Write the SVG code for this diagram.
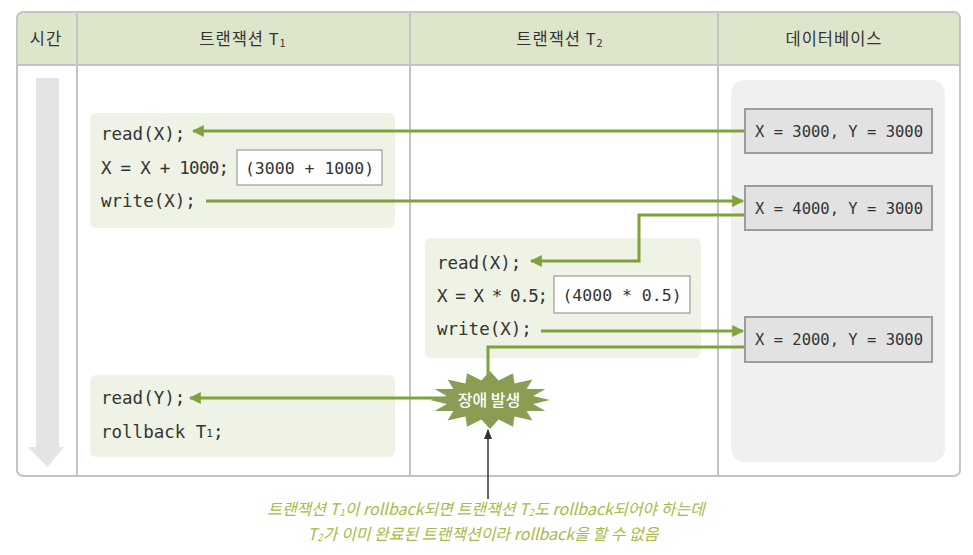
<svg xmlns="http://www.w3.org/2000/svg" width="973" height="555" viewBox="0 0 973 555">
<style>
.hd{font-family:"Noto Sans CJK KR","Noto Sans",sans-serif;font-size:16.5px;letter-spacing:1px;fill:#333;text-anchor:middle}
.code{font-family:"DejaVu Sans Mono",monospace;font-size:17.5px;fill:#333}
.mc{font-family:"DejaVu Sans Mono",monospace;font-size:16.5px;fill:#333;text-anchor:middle}
.db{font-family:"DejaVu Sans Mono",monospace;font-size:15.5px;fill:#333;text-anchor:middle}
.blk{fill:#eef3e5}
.mini{fill:#fff;stroke:#999;stroke-width:1.2}
.dbbox{fill:#e2e2e2;stroke:#9c9c9c;stroke-width:2}
.con{fill:none;stroke:#7fa23a;stroke-width:3}
.cap{font-family:"Noto Sans CJK KR","Noto Sans",sans-serif;font-size:16px;font-style:italic;fill:#a9ba48;text-anchor:middle}
</style>
<defs>
<marker id="ah" viewBox="0 0 10 10" refX="9" refY="5" markerWidth="4" markerHeight="4" orient="auto" markerUnits="strokeWidth">
<path d="M0,0 L10,5 L0,10 z" fill="#7fa23a"/>
</marker>
<marker id="bh" viewBox="0 0 10 10" refX="9" refY="5" markerWidth="7" markerHeight="7" orient="auto" markerUnits="strokeWidth">
<path d="M0,1 L10,5 L0,9 z" fill="#333"/>
</marker>
</defs>
<rect width="973" height="555" fill="#fff"/>
<g id="table">
<path d="M17,65 V18 Q17,12 23,12 H954 Q960,12 960,18 V65 Z" fill="#dde6ca"/>
<rect x="17" y="12" width="943" height="464" rx="6" fill="none" stroke="#c4c4c4" stroke-width="2"/>
<line x1="17" y1="65" x2="960" y2="65" stroke="#c4c4c4" stroke-width="2"/>
<line x1="77" y1="12" x2="77" y2="476" stroke="#c4c4c4" stroke-width="2"/>
<line x1="410" y1="12" x2="410" y2="476" stroke="#c4c4c4" stroke-width="2"/>
<line x1="718" y1="12" x2="718" y2="476" stroke="#c4c4c4" stroke-width="2"/>
<text class="hd" x="46" y="45">시간</text>
<text class="hd" x="243" y="45">트랜잭션 T<tspan font-size="11" dy="2">1</tspan></text>
<text class="hd" x="560" y="45">트랜잭션 T<tspan font-size="11" dy="2">2</tspan></text>
<text class="hd" x="834" y="45" letter-spacing="1.5">데이터베이스</text>
</g>
<g id="time-arrow">
<polygon points="36,78 59,78 59,447 64,447 47.5,467 28,447 36,447" fill="#e4e4e4"/>
</g>
<g id="db-area">
<rect x="731" y="80" width="214" height="382" rx="14" fill="#f0f0f0"/>
</g>
<g id="t1-block1">
<rect class="blk" x="90" y="113" width="305" height="115" rx="6"/>
<text class="code" x="101" y="140">read(X);</text>
<text class="code" x="101" y="174" textLength="128" lengthAdjust="spacing">X = X + 1000;</text>
<rect class="mini" x="237" y="150" width="145" height="35"/>
<text class="mc" x="309.5" y="174">(3000 + 1000)</text>
<text class="code" x="101" y="207">write(X);</text>
</g>
<g id="t2-block">
<rect class="blk" x="425" y="238" width="276" height="120" rx="6"/>
<text class="code" x="437" y="269">read(X);</text>
<text class="code" x="437" y="302" textLength="111" lengthAdjust="spacing">X = X * 0.5;</text>
<rect class="mini" x="554" y="276" width="136" height="37"/>
<text class="mc" x="622" y="301">(4000 * 0.5)</text>
<text class="code" x="437" y="335">write(X);</text>
</g>
<g id="t1-block2">
<rect class="blk" x="90" y="375" width="305" height="82" rx="6"/>
<text class="code" x="101" y="404">read(Y);</text>
<text class="code" x="101" y="438">rollback T<tspan font-size="11" dy="-1">1</tspan><tspan dy="1">;</tspan></text>
</g>
<g id="db1">
<rect class="dbbox" x="745" y="109" width="187" height="44"/>
<text class="db" x="839" y="137">X = 3000, Y = 3000</text>
</g>
<g id="db2">
<rect class="dbbox" x="745" y="186" width="187" height="44"/>
<text class="db" x="839" y="214">X = 4000, Y = 3000</text>
</g>
<g id="db3">
<rect class="dbbox" x="745" y="317" width="187" height="45"/>
<text class="db" x="839" y="345">X = 2000, Y = 3000</text>
</g>
<g id="connectors">
<path class="con" d="M744,131 H193" marker-end="url(#ah)"/>
<path class="con" d="M206,201 H743" marker-end="url(#ah)"/>
<path class="con" d="M744,215 H639 V261 H531" marker-end="url(#ah)"/>
<path class="con" d="M541,331 H743" marker-end="url(#ah)"/>
<path class="con" d="M744,347 H488 V380"/>
<path class="con" d="M450,398 H190" marker-end="url(#ah)"/>
<path d="M488,499 V430" fill="none" stroke="#333" stroke-width="1.5" marker-end="url(#bh)"/>
</g>
<g id="failure">
<polygon fill="#8a9d52" points="550,400 533.2,403.9 545.4,411.1 526.6,411.1 532.4,420.5 514.5,416.6 513,426.8 498.6,419.6 490,429 481.4,419.6 467,426.8 465.5,416.6 447.6,420.5 453.4,411.1 434.6,411.1 446.8,403.9 430,400 446.8,396.1 434.6,388.9 453.4,388.9 447.6,379.5 465.5,383.4 467,373.2 481.4,380.4 490,371 498.6,380.4 513,373.2 514.5,383.4 532.4,379.5 526.6,388.9 545.4,388.9 533.2,396.1"/>
<text x="489" y="406" font-family="'Noto Sans CJK KR',sans-serif" font-size="16" font-weight="500" fill="#fff" text-anchor="middle">장애 발생</text>
</g>
<g id="caption">
<text class="cap" x="486" y="515">트랜잭션 T<tspan font-size="10" dy="1">1</tspan><tspan dy="-1">이 rollback되면 트랜잭션 T</tspan><tspan font-size="10" dy="1">2</tspan><tspan dy="-1">도 rollback되어야 하는데</tspan></text>
<text class="cap" x="483" y="540">T<tspan font-size="10" dy="1">2</tspan><tspan dy="-1">가 이미 완료된 트랜잭션이라 rollback을 할 수 없음</tspan></text>
</g>
</svg>
